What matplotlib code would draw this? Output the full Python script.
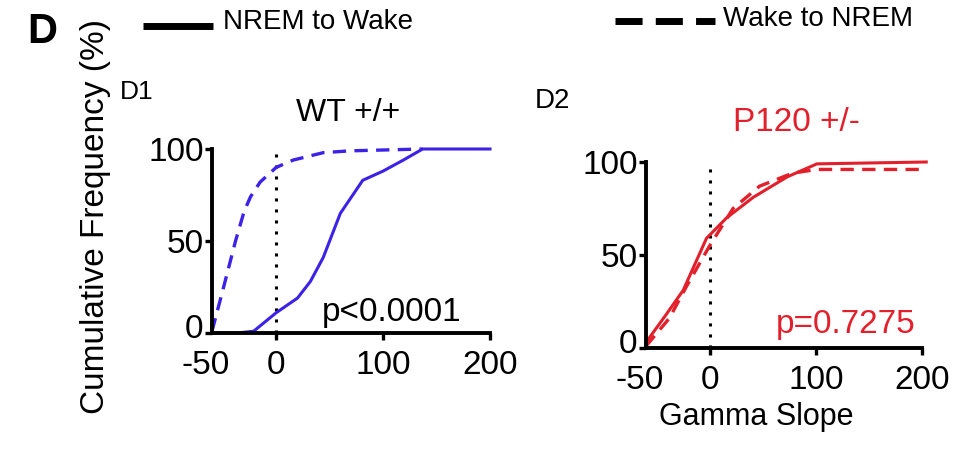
import matplotlib
matplotlib.use("Agg")
import matplotlib.pyplot as plt
from matplotlib.lines import Line2D
import matplotlib.transforms as mtransforms

plt.rcParams['font.family'] = ['Liberation Sans', 'DejaVu Sans']
plt.rcParams['axes.unicode_minus'] = False

# Data
wt_solid_x = [-60, -36, -21, 0, 20, 32, 44, 60, 81, 100, 119, 137, 200]
wt_solid_y = [0, 0, 1, 11, 19, 28, 41, 65, 83, 88, 94, 100, 100]
wt_dash_x = [-60, -50, -38, -30, -24, -15, 0, 16, 44, 69, 137]
wt_dash_y = [1, 23, 50, 66, 74, 82, 90, 94, 98, 99, 100]

p120_solid_x = [-60, -41, -25, -3, 16, 41, 73, 101, 204]
p120_solid_y = [3, 18, 31, 59, 70, 81, 92, 99, 100]
p120_dash_x = [-60, -38, -22, 0, 22, 47, 78, 101, 204]
p120_dash_y = [1, 16, 33, 55, 75, 87, 94, 96, 96]

xticks = [-50, 0, 100, 200]
yticks = [0, 50, 100]

blue = '#3b22e6'
red = '#e2202b'

W, H = 974, 457
fig = plt.figure(figsize=(W / 100, H / 100), dpi=100)

def style(ax):
    for s in ['top', 'right']:
        ax.spines[s].set_visible(False)
    for s in ['left', 'bottom']:
        ax.spines[s].set_linewidth(2.8)
    ax.set_xlim(-60, 200)
    ax.set_ylim(0, 100)
    ax.set_xticks(xticks)
    ax.set_yticks(yticks)
    ax.tick_params(axis='x', width=2.4, length=5, labelsize=24, pad=7)
    ax.tick_params(axis='y', width=2.4, length=5, labelsize=24, pad=1)
    # hide the -50 tick mark and nudge its label left, as in the original
    ax.get_xticklines()[0].set_visible(False)
    off = mtransforms.ScaledTranslation(-17 / 100, 0, fig.dpi_scale_trans)
    lab = ax.get_xticklabels()[0]
    lab.set_transform(lab.get_transform() + off)
    # the y "0" label sits slightly above the x axis in the original
    up = mtransforms.ScaledTranslation(0, 7 / 100, fig.dpi_scale_trans)
    ylab = ax.get_yticklabels()[0]
    ylab.set_transform(ylab.get_transform() + up)
    ax.axvline(0, color='black', linestyle=(0, (1, 2.6)), linewidth=2.2, zorder=1)

ax1 = fig.add_axes([212 / W, 124 / H, 278 / W, 184 / H])
style(ax1)
ax1.plot(wt_solid_x, wt_solid_y, color=blue, lw=2.2, clip_on=False)
ax1.plot(wt_dash_x, wt_dash_y, color=blue, lw=2.4, ls=(0, (4, 2.5)), clip_on=False)
fig.text(392 / W, 1 - 313 / H, 'p<0.0001', fontsize=24, ha='center', va='center', color='black')

ax2 = fig.add_axes([646 / W, 109 / H, 276 / W, 186 / H])
style(ax2)
ax2.plot(p120_solid_x, p120_solid_y, color=red, lw=2.2, clip_on=False)
ax2.plot(p120_dash_x, p120_dash_y, color=red, lw=2.4, ls=(0, (4, 2.5)), clip_on=False)
fig.text(846 / W, 1 - 324 / H, 'p=0.7275', fontsize=24, ha='center', va='center', color=red)

# Titles and labels
fig.text(42 / W, 1 - 32 / H, 'D', fontsize=30, fontweight='bold', ha='center', va='center')
fig.text(96 / W, 1 - 217 / H, 'Cumulative Frequency (%)', fontsize=24, rotation=90,
         ha='center', va='center')
fig.text(120 / W, 1 - 92 / H, 'D1', fontsize=19, ha='left', va='center')
fig.text(348 / W, 1 - 113 / H, 'WT +/+', fontsize=23, ha='center', va='center')
fig.text(535 / W, 1 - 101 / H, 'D2', fontsize=20, ha='left', va='center')
fig.text(796 / W, 1 - 123 / H, 'P120 +/-', fontsize=24, ha='center', va='center', color=red)
fig.text(756 / W, 1 - 417 / H, 'Gamma Slope', fontsize=22, ha='center', va='center')

# Legend
fig.add_artist(Line2D([143 / W, 213 / W], [1 - 25.5 / H, 1 - 25.5 / H], color='black', lw=5,
                      solid_capstyle='butt', transform=fig.transFigure))
fig.text(223 / W, 1 - 22 / H, 'NREM to Wake', fontsize=20, ha='left', va='center')
fig.add_artist(Line2D([615 / W, 715 / W], [1 - 21 / H, 1 - 21 / H], color='black', lw=5,
                      ls=(0, (3.9, 1.9)), transform=fig.transFigure))
fig.text(723 / W, 1 - 19 / H, 'Wake to NREM', fontsize=20, ha='left', va='center')

fig.savefig('out.png', dpi=100)
